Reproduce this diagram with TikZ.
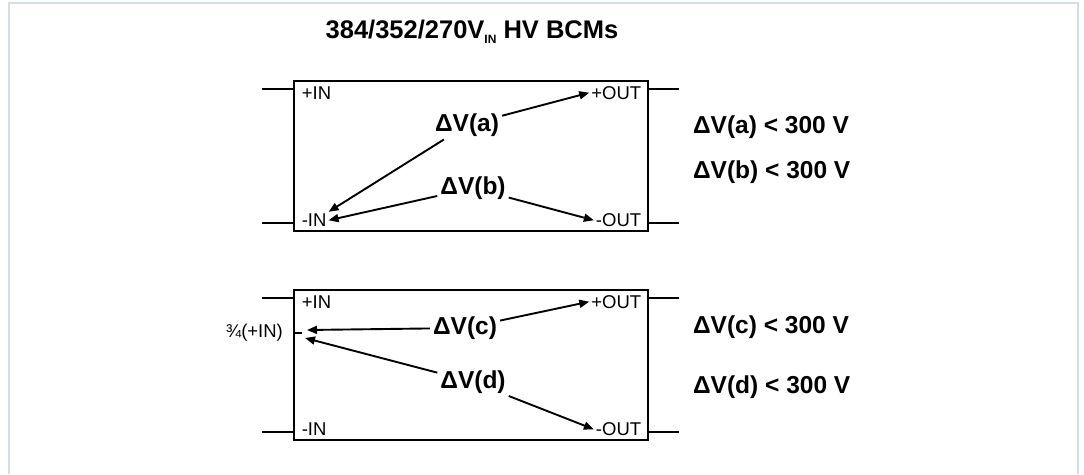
\documentclass[tikz,border=0pt]{standalone}
\usepackage{fontspec}
\setmainfont{Liberation Sans}
\usetikzlibrary{calc,arrows.meta}
\definecolor{framegray}{RGB}{212,222,226}

\begin{document}
\begin{tikzpicture}[x=1pt,y=-1pt,line width=2.2pt]
    \tikzstyle{bcm}=[draw,line width=2.6pt,minimum width=354pt,minimum height=150pt,inner sep=0pt]
    \tikzstyle{pinlabel}=[font=\fontsize{18.5}{20}\selectfont,inner sep=1pt]
    \tikzstyle{dv}=[font=\bfseries\fontsize{24.5}{26}\selectfont,inner sep=2pt]
    \tikzstyle{limit}=[dv,anchor=west]
    \tikzstyle{arr}=[-{Triangle[length=10pt,width=8pt]},line width=1.9pt]

    \useasboundingbox (0,0) rectangle (1084,474);

    % Frame of the figure
    \draw[framegray,line width=1.5pt] (9,474) |- (1078,3) -- (1078,474);

    % Title
    \node[font=\bfseries\fontsize{25.5}{27}\selectfont] (title) at (472,32)
        {384/352/270V\raisebox{-5pt}{\fontsize{12}{12}\selectfont IN} HV BCMs};

    % The two modules
    \node[bcm] (B1) at (471,156) {};
    \node[bcm] (B2) at (471,365) {};

    % Pins, leads and pin labels of each module
    \foreach \b in {B1,B2} {
        \coordinate (\b-l1) at ($(\b.north west)+(0,9)$);
        \coordinate (\b-l1e) at ($(\b-l1)+(-31,0)$);
        \coordinate (\b-l2) at ($(\b.south west)+(0,-9)$);
        \coordinate (\b-l2e) at ($(\b-l2)+(-31,0)$);
        \coordinate (\b-r1) at ($(\b.north east)+(0,9)$);
        \coordinate (\b-r1e) at ($(\b-r1)+(30,0)$);
        \coordinate (\b-r2) at ($(\b.south east)+(0,-9)$);
        \coordinate (\b-r2e) at ($(\b-r2)+(30,0)$);
        \draw (\b-l1) -- (\b-l1e);
        \draw (\b-l2) -- (\b-l2e);
        \draw (\b-r1) -- (\b-r1e);
        \draw (\b-r2) -- (\b-r2e);
        \node[pinlabel,anchor=west] (\b-pin) at ($(\b.north west)+(7,13)$) {+IN};
        \node[pinlabel,anchor=east] (\b-pout) at ($(\b.north east)+(-6,13)$) {+OUT};
        \node[pinlabel,anchor=west] (\b-nin) at ($(\b.south west)+(7,-12)$) {-IN};
        \node[pinlabel,anchor=east] (\b-nout) at ($(\b.south east)+(-6,-12)$) {-OUT};
    }

    % Voltage labels inside the modules
    \node[dv] (dVa) at (467,125) {ΔV(a)};
    \node[dv] (dVb) at (473,188) {ΔV(b)};
    \node[dv] (dVc) at (465,328) {ΔV(c)};
    \node[dv] (dVd) at (473,382) {ΔV(d)};

    % Arrows of the upper module
    \draw[arr] (dVa) -- (B1-pout.west);
    \draw[arr] (dVa) -- (B1-nin.north east);
    \draw[arr] (dVb) -- (B1-nin.east);
    \draw[arr] (dVb) -- (B1-nout.west);

    % Tap at 3/4 of the input of the lower module
    \coordinate (tap) at (293,333);
    \coordinate (tape) at (302,333);
    \coordinate (tapc) at (307,330);
    \coordinate (tapd) at (305,338);
    \draw (tap) -- (tape);
    \node[pinlabel,anchor=east] (tapl) at (285,333) {¾(+IN)};

    % Arrows of the lower module
    \draw[arr] (dVc) -- (B2-pout.west);
    \draw[arr] (dVc) -- (tapc);
    \draw[arr] (dVd) -- (tapd);
    \draw[arr] (dVd) -- (B2-nout.west);

    % Limits
    \node[limit] (la) at (690,127) {ΔV(a) < 300 V};
    \node[limit] (lb) at (690,172) {ΔV(b) < 300 V};
    \node[limit] (lc) at (690,327) {ΔV(c) < 300 V};
    \node[limit] (ld) at (690,387) {ΔV(d) < 300 V};
\end{tikzpicture}
\end{document}
